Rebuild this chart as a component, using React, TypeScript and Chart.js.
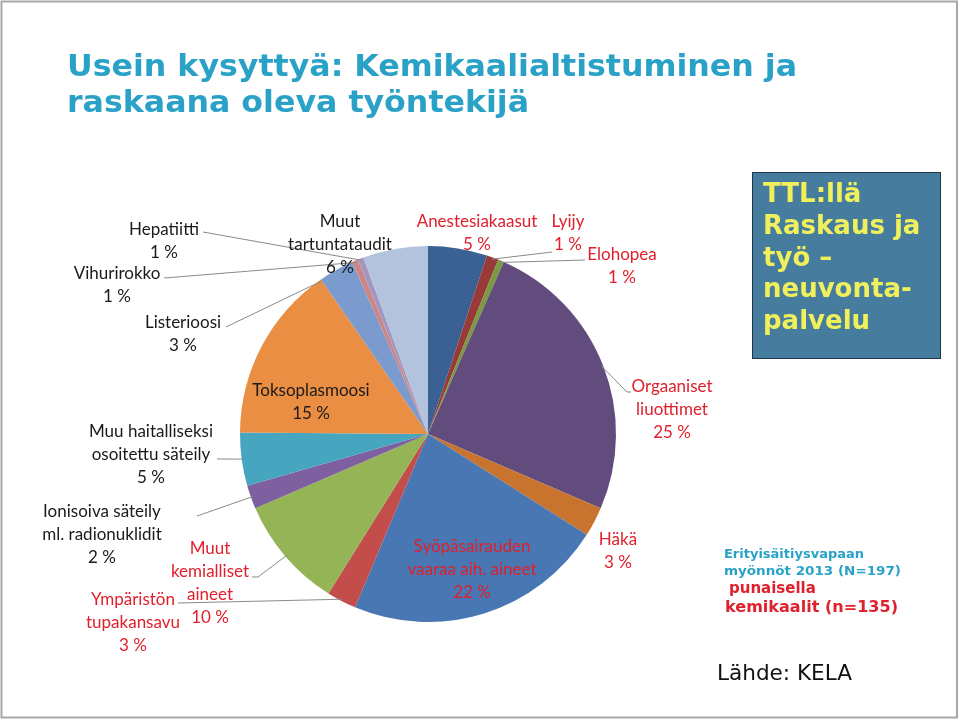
import React, { useEffect, useRef } from "react";
import { Chart, registerables } from "chart.js";

Chart.register(...registerables);

// ---------- data ----------
const categories = [
  "Anestesiakaasut",
  "Lyijy",
  "Elohopea",
  "Orgaaniset liuottimet",
  "Häkä",
  "Syöpäsairauden vaaraa aih. aineet",
  "Ympäristön tupakansavu",
  "Muut kemialliset aineet",
  "Ionisoiva säteily ml. radionuklidit",
  "Muu haitalliseksi osoitettu säteily",
  "Toksoplasmoosi",
  "Listerioosi",
  "Vihurirokko",
  "Hepatiitti",
  "Muut tartuntataudit",
];
// number of approvals (N = 197, chemicals n = 135)
const counts = [10, 2, 1, 49, 5, 44, 5, 19, 4, 9, 30, 6, 1, 1, 11];
const isChemical = [true, true, true, true, true, true, true, true, false, false, false, false, false, false, false];
const labelLines = [
  ["Anestesiakaasut"],
  ["Lyijy"],
  ["Elohopea"],
  ["Orgaaniset", "liuottimet"],
  ["Häkä"],
  ["Syöpäsairauden", "vaaraa aih. aineet"],
  ["Ympäristön", "tupakansavu"],
  ["Muut", "kemialliset", "aineet"],
  ["Ionisoiva säteily", "ml. radionuklidit"],
  ["Muu haitalliseksi", "osoitettu säteily"],
  ["Toksoplasmoosi"],
  ["Listerioosi"],
  ["Vihurirokko"],
  ["Hepatiitti"],
  ["Muut", "tartuntataudit"],
];
const sliceColors = [
  "#3B6194",
  "#973A38",
  "#7A9A3F",
  "#624C7E",
  "#C8742E",
  "#4877B3",
  "#C24D4A",
  "#94B456",
  "#7E5FA0",
  "#46A5BF",
  "#EA8E43",
  "#7B9BCE",
  "#CE8684",
  "#A497BF",
  "#B3C3DE",
];
const titleLines = ["Usein kysyttyä: Kemikaalialtistuminen ja", "raskaana oleva työntekijä"];
const boxLines = ["TTL:llä", "Raskaus ja", "työ –", "neuvonta-", "palvelu"];
const noteLines = ["Erityisäitiysvapaan", "myönnöt 2013 (N=197)"];
const redNoteLines = [" punaisella", "kemikaalit (n=135)"];
const sourceText = "Lähde: KELA";

// ---------- layout (positions/styles only) ----------
type Pt = [number, number];
const labelLayout: { x: number; y: number; leader?: Pt[]; t?: number }[] = [
  { x: 477, y: 222 },
  { x: 568, y: 222, leader: [[552, 252]] },
  { x: 622, y: 255, leader: [[585, 260]] },
  { x: 672, y: 387, leader: [[631, 392], [627, 392]] },
  { x: 618, y: 540 },
  { x: 472, y: 547 },
  { x: 133, y: 600, leader: [[178, 603]] },
  { x: 210, y: 549, leader: [[252, 577], [258, 577]] },
  { x: 102, y: 512, leader: [[197, 516]] },
  { x: 151, y: 432, leader: [[217, 459]] },
  { x: 311, y: 391 },
  { x: 183, y: 323, leader: [[226, 327]], t: 0.03 },
  { x: 117, y: 274, leader: [[164, 278]] },
  { x: 164, y: 230, leader: [[203, 232]] },
  { x: 340, y: 222 },
];

const LABEL_FONT = "17px Lato, 'Open Sans', sans-serif";
const LINE_H = 23;
const RED = "#E0202C";
const TEAL = "#2AA2C7";

function pct(i: number) {
  const total = counts.reduce((a, b) => a + b, 0);
  return Math.round((counts[i] / total) * 100) + " %";
}

const decorPlugin = {
  id: "decor",
  beforeDraw(chart: any) {
    const ctx: CanvasRenderingContext2D = chart.ctx;
    ctx.save();
    ctx.fillStyle = "#ffffff";
    ctx.fillRect(0, 0, chart.width, chart.height);
    // slide frame
    ctx.strokeStyle = "#A8A8A8";
    ctx.lineWidth = 2;
    ctx.strokeRect(1.5, 1.5, 955.5, 716);

    // title (condensed bold)
    ctx.fillStyle = TEAL;
    ctx.textBaseline = "alphabetic";
    ctx.textAlign = "left";
    ctx.font = "bold 31px 'DejaVu Sans Condensed', 'DejaVu Sans', sans-serif";
    const w1 = ctx.measureText(titleLines[0]).width;
    const sx = 730 / w1;
    ctx.save();
    ctx.translate(67, 76);
    ctx.scale(sx, 1);
    ctx.fillText(titleLines[0], 0, 0);
    ctx.restore();
    ctx.save();
    ctx.translate(67, 112);
    ctx.scale(sx, 1);
    ctx.fillText(titleLines[1], 0, 0);
    ctx.restore();

    // info box
    ctx.fillStyle = "#467C9D";
    ctx.fillRect(752, 172, 189, 187);
    ctx.strokeStyle = "#22364A";
    ctx.lineWidth = 1;
    ctx.strokeRect(752.5, 172.5, 188, 186);
    ctx.fillStyle = "#F0F05C";
    ctx.font = "bold 26px 'DejaVu Sans', sans-serif";
    boxLines.forEach((l, i) => ctx.fillText(l, 763, 202 + i * 31.8));

    // notes
    const fit = (text: string, x: number, y: number, font: string, w: number) => {
      ctx.font = font;
      const m = ctx.measureText(text).width;
      ctx.save();
      ctx.translate(x, y);
      ctx.scale(w / m, 1);
      ctx.fillText(text, 0, 0);
      ctx.restore();
    };
    ctx.fillStyle = TEAL;
    fit(noteLines[0], 724, 558, "bold 13px 'DejaVu Sans', sans-serif", 140);
    fit(noteLines[1], 724, 575, "bold 13px 'DejaVu Sans', sans-serif", 177);
    ctx.fillStyle = RED;
    ctx.font = "bold 15px 'DejaVu Sans', sans-serif";
    ctx.fillText(redNoteLines[0].trim(), 729, 593);
    fit(redNoteLines[1], 725, 612, "bold 15px 'DejaVu Sans', sans-serif", 173);
    ctx.fillStyle = "#111111";
    fit(sourceText, 717, 680, "21px 'DejaVu Sans', sans-serif", 135);
    ctx.restore();
  },
  afterDatasetsDraw(chart: any) {
    const ctx: CanvasRenderingContext2D = chart.ctx;
    const meta = chart.getDatasetMeta(0);
    ctx.save();
    // leader lines
    ctx.strokeStyle = "#8A8A8A";
    ctx.lineWidth = 1;
    meta.data.forEach((arc: any, i: number) => {
      const lay = labelLayout[i];
      if (!lay.leader) return;
      const t = lay.t ?? 0.5;
      const a = arc.startAngle + t * (arc.endAngle - arc.startAngle);
      const px = arc.x + Math.cos(a) * arc.outerRadius * 0.99;
      const py = arc.y + Math.sin(a) * arc.outerRadius * 0.99;
      ctx.beginPath();
      ctx.moveTo(lay.leader[0][0], lay.leader[0][1]);
      for (let k = 1; k < lay.leader.length; k++) ctx.lineTo(lay.leader[k][0], lay.leader[k][1]);
      ctx.lineTo(px, py);
      ctx.stroke();
    });
    // labels
    ctx.font = LABEL_FONT;
    ctx.textAlign = "center";
    ctx.textBaseline = "middle";
    categories.forEach((_, i) => {
      const lay = labelLayout[i];
      ctx.fillStyle = isChemical[i] ? RED : "#1A1A1A";
      const lines = [...labelLines[i], pct(i)];
      lines.forEach((l, k) => ctx.fillText(l, lay.x, lay.y + k * LINE_H));
    });
    ctx.restore();
  },
};

export default function App() {
  const ref = useRef<HTMLCanvasElement | null>(null);
  useEffect(() => {
    if (!ref.current) return;
    const chart = new Chart(ref.current, {
      type: "pie",
      data: {
        labels: categories,
        datasets: [
          {
            data: counts,
            backgroundColor: sliceColors,
            borderWidth: 0,
          },
        ],
      },
      options: {
        responsive: false,
        maintainAspectRatio: false,
        devicePixelRatio: 1,
        animation: false,
        layout: { padding: { left: 240, right: 344, top: 246, bottom: 98 } },
        plugins: {
          legend: { display: false },
          tooltip: { enabled: false },
          title: { display: false },
        },
      },
      plugins: [decorPlugin],
    });
    return () => chart.destroy();
  }, []);
  return (
    <canvas
      ref={ref}
      width={960}
      height={720}
      style={{ position: "absolute", left: 0, top: 0, display: "block" }}
    />
  );
}
